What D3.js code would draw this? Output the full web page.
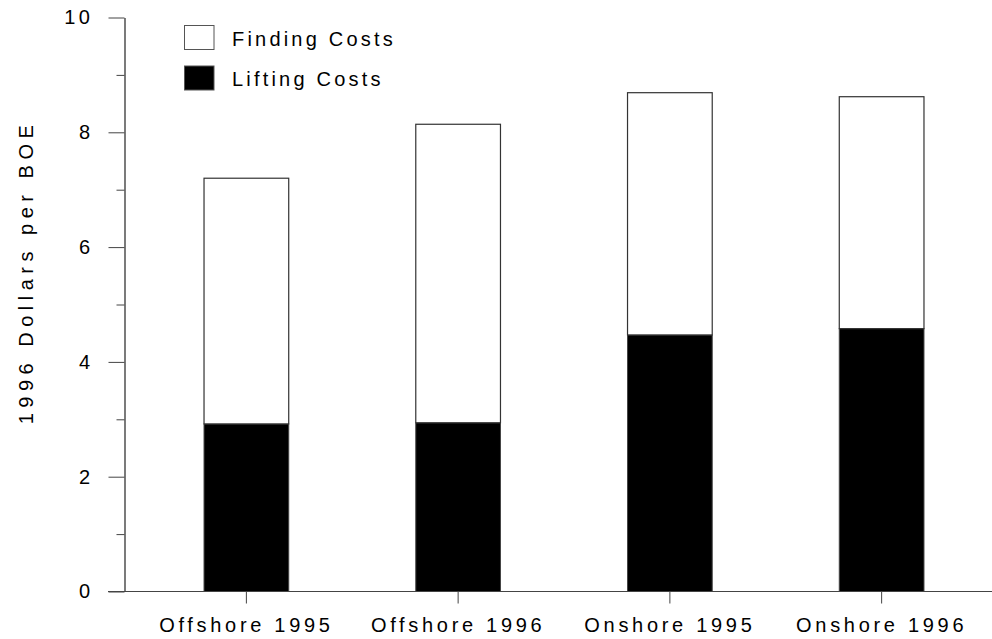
<!DOCTYPE html>
<html>
<head>
<meta charset="utf-8">
<script src="https://cdn.jsdelivr.net/npm/d3@7"></script>
<style>
  body { margin: 0; background: #fff; }
  text { font-family: "Liberation Sans", Arial, sans-serif; fill: #000; }
</style>
</head>
<body>
<div id="chart"></div>
<script>
// data
var categories = ["Offshore 1995", "Offshore 1996", "Onshore 1995", "Onshore 1996"];
var liftingCosts = [2.92, 2.94, 4.47, 4.58];
var findingCosts = [4.28, 5.20, 4.22, 4.04];   // stacked on top of lifting
var yTicks = [0, 2, 4, 6, 8, 10];
var yMinorTicks = [1, 3, 5, 7, 9];
var legendLabels = ["Finding Costs", "Lifting Costs"];

var width = 992, height = 639;

var svg = d3.select("#chart").append("svg")
  .attr("width", width)
  .attr("height", height);

// scales
var x = d3.scaleBand()
  .domain(categories)
  .range([140, 987])
  .paddingInner(0.6)
  .paddingOuter(0.3);

var y = d3.scaleLinear()
  .domain([0, 10])
  .range([591.5, 17.5]);

// bars: lifting on the bottom, finding on top
var g = svg.append("g");

g.selectAll(".lift")
  .data(categories)
  .enter().append("rect")
  .attr("class", "lift")
  .attr("x", function (d) { return x(d) + 0.5; })
  .attr("width", x.bandwidth())
  .attr("y", function (d, i) { return y(liftingCosts[i]); })
  .attr("height", function (d, i) { return y(0) - y(liftingCosts[i]); })
  .attr("fill", "#000")
  .attr("stroke", "#444")
  .attr("stroke-width", 1);

g.selectAll(".find")
  .data(categories)
  .enter().append("rect")
  .attr("class", "find")
  .attr("x", function (d) { return x(d) + 0.5; })
  .attr("width", x.bandwidth())
  .attr("y", function (d, i) { return y(liftingCosts[i] + findingCosts[i]); })
  .attr("height", function (d, i) { return y(liftingCosts[i]) - y(liftingCosts[i] + findingCosts[i]); })
  .attr("fill", "#fff")
  .attr("stroke", "#333")
  .attr("stroke-width", 1.2);

// y axis (major + minor ticks)
var yAxis = svg.append("g")
  .attr("transform", "translate(124.5,0)")
  .call(d3.axisLeft(y).tickValues(yTicks).tickSize(16).tickSizeOuter(0).tickPadding(15));
yAxis.select(".domain").attr("stroke", "#222").attr("stroke-width", 1.2);
yAxis.selectAll(".tick line").attr("stroke", "#444");
yAxis.selectAll(".tick text")
  .style("font-size", "20px")
  .style("letter-spacing", "3.5px")
  .attr("fill", "#000");

var yMinor = svg.append("g")
  .attr("transform", "translate(124.5,0)")
  .call(d3.axisLeft(y).tickValues(yMinorTicks).tickSize(8).tickFormat(""));
yMinor.select(".domain").remove();
yMinor.selectAll(".tick line").attr("stroke", "#444");

// x axis
var xAxis = svg.append("g")
  .attr("transform", "translate(0.5,591.5)")
  .call(d3.axisBottom(x).tickSize(12).tickSizeOuter(0).tickPadding(14));
xAxis.select(".domain").remove();
xAxis.selectAll(".tick line").attr("stroke", "#444");
xAxis.selectAll(".tick text")
  .style("font-size", "20px")
  .style("letter-spacing", "3.7px")
  .attr("fill", "#000");

svg.append("line")
  .attr("x1", 108).attr("x2", 992)
  .attr("y1", 591.5).attr("y2", 591.5)
  .attr("stroke", "#444")
  .attr("stroke-width", 1.2);

// y axis title
svg.append("text")
  .attr("transform", "rotate(-90)")
  .attr("x", -272)
  .attr("y", 33)
  .style("text-anchor", "middle")
  .style("font-size", "20px")
  .style("letter-spacing", "5.5px")
  .text("1996 Dollars per BOE");

// legend
var legend = svg.append("g");
var legendFill = ["#fff", "#000"];
legend.selectAll("rect")
  .data(legendLabels)
  .enter().append("rect")
  .attr("x", 184.5)
  .attr("y", function (d, i) { return 25.5 + i * 40.5; })
  .attr("width", 29.5)
  .attr("height", 24)
  .attr("fill", function (d, i) { return legendFill[i]; })
  .attr("stroke", "#555")
  .attr("stroke-width", 1);

legend.selectAll("text")
  .data(legendLabels)
  .enter().append("text")
  .attr("x", 232)
  .attr("y", function (d, i) { return 46 + i * 40; })
  .style("font-size", "20px")
  .style("letter-spacing", "3.2px")
  .text(function (d) { return d; });
</script>
</body>
</html>
